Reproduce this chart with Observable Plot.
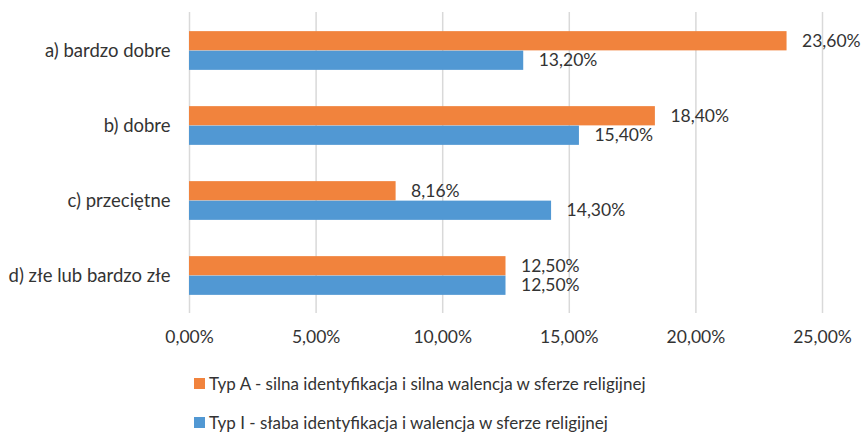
<!DOCTYPE html>
<html>
<head>
<meta charset="utf-8">
<script src="https://cdn.jsdelivr.net/npm/d3@7"></script>
<script src="https://cdn.jsdelivr.net/npm/@observablehq/plot@0.6"></script>
<style>
  body { margin: 0; background: #fff; font-family: Lato, sans-serif; }
  #chart svg { display: block; }
  .legend { width: 862px; font-family: Lato, sans-serif; font-size: 17px; color: #333; }
  .legend .item { position: relative; height: 39px; line-height: 39px; padding-left: 209px; }
  .legend .sw { position: absolute; left: 194px; top: 14px; width: 11px; height: 11px; }
</style>
</head>
<body>
<div id="chart"></div>
<div class="legend" id="legend"></div>
<script>
const categories = ["a) bardzo dobre", "b) dobre", "c) przeciętne", "d) złe lub bardzo złe"];
const seriesNames = ["Typ A - silna identyfikacja i silna walencja w sferze religijnej",
                     "Typ I - słaba identyfikacja i walencja w sferze religijnej"];
const typA = [23.6, 18.4, 8.16, 12.5];
const typI = [13.2, 15.4, 14.3, 12.5];
const xTicks = [0, 5, 10, 15, 20, 25];
const colors = ["#F1833D", "#5198D3"];

const fmt = v => v.toFixed(2).replace(".", ",") + "%";
const dataA = categories.map((c, i) => ({category: c, value: typA[i]}));
const dataI = categories.map((c, i) => ({category: c, value: typI[i]}));

const W = 862, H = 350, mt = 12, mb = 37;
const step = (H - mt - mb) / categories.length;
const group = step * 0.518;
const half = group / 2;
const outer = (step - group) / 2;

const chart = Plot.plot({
  width: W,
  height: H,
  marginLeft: 189,
  marginRight: 40,
  marginTop: mt,
  marginBottom: mb,
  style: {fontFamily: "Lato, sans-serif", fontSize: "17.5px", color: "#333", background: "#fff"},
  x: {domain: [0, 25], ticks: xTicks, tickFormat: fmt, label: null, tickSize: 0, tickPadding: 17},
  y: {domain: categories, padding: 0, label: null, tickSize: 0, tickPadding: 19},
  marks: [
    Plot.ruleX(xTicks, {stroke: "#D9D9D9", strokeWidth: 1.5}),
    Plot.barX(dataA, {y: "category", x: "value", fill: colors[0], insetTop: outer, insetBottom: outer + half}),
    Plot.barX(dataI, {y: "category", x: "value", fill: colors[1], insetTop: outer + half, insetBottom: outer}),
    Plot.text(dataA, {y: "category", x: "value", text: d => fmt(d.value), dx: 15, dy: -half / 2, textAnchor: "start", fill: "#333"}),
    Plot.text(dataI, {y: "category", x: "value", text: d => fmt(d.value), dx: 15, dy: half / 2, textAnchor: "start", fill: "#333"}),
    Plot.axisY({tickSize: 0, tickPadding: 19, fontSize: 18.5, label: null})
  ]
});
document.getElementById("chart").appendChild(chart);

const legend = document.getElementById("legend");
legend.style.marginTop = "14px";
seriesNames.forEach((name, i) => {
  const item = document.createElement("div");
  item.className = "item";
  const sw = document.createElement("span");
  sw.className = "sw";
  sw.style.background = colors[i];
  item.appendChild(sw);
  item.appendChild(document.createTextNode(name));
  legend.appendChild(item);
});
</script>
</body>
</html>
